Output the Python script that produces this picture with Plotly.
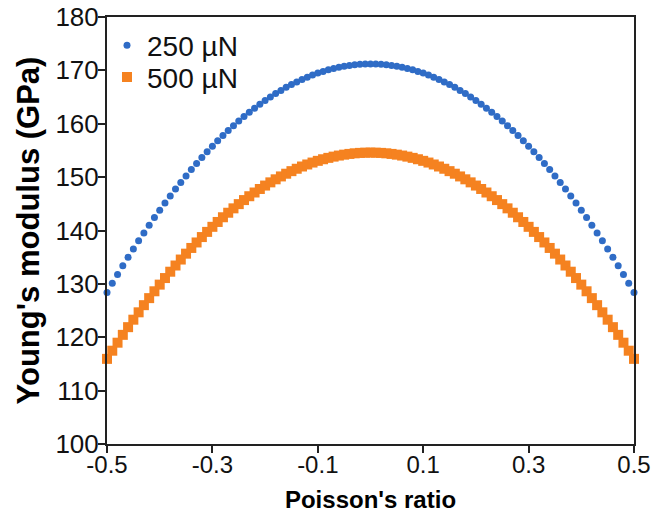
import plotly.graph_objects as go

poisson = [-0.50, -0.49, -0.48, -0.47, -0.46, -0.45, -0.44, -0.43, -0.42, -0.41,
           -0.40, -0.39, -0.38, -0.37, -0.36, -0.35, -0.34, -0.33, -0.32, -0.31,
           -0.30, -0.29, -0.28, -0.27, -0.26, -0.25, -0.24, -0.23, -0.22, -0.21,
           -0.20, -0.19, -0.18, -0.17, -0.16, -0.15, -0.14, -0.13, -0.12, -0.11,
           -0.10, -0.09, -0.08, -0.07, -0.06, -0.05, -0.04, -0.03, -0.02, -0.01,
           0.00, 0.01, 0.02, 0.03, 0.04, 0.05, 0.06, 0.07, 0.08, 0.09,
           0.10, 0.11, 0.12, 0.13, 0.14, 0.15, 0.16, 0.17, 0.18, 0.19,
           0.20, 0.21, 0.22, 0.23, 0.24, 0.25, 0.26, 0.27, 0.28, 0.29,
           0.30, 0.31, 0.32, 0.33, 0.34, 0.35, 0.36, 0.37, 0.38, 0.39,
           0.40, 0.41, 0.42, 0.43, 0.44, 0.45, 0.46, 0.47, 0.48, 0.49, 0.50]

e_250 = [128.40, 130.10, 131.76, 133.38, 134.97, 136.53, 138.06, 139.55, 141.00, 142.42,
         143.81, 145.16, 146.48, 147.76, 149.01, 150.23, 151.41, 152.56, 153.67, 154.75,
         155.79, 156.80, 157.78, 158.72, 159.63, 160.50, 161.34, 162.14, 162.91, 163.65,
         164.35, 165.02, 165.65, 166.25, 166.82, 167.35, 167.84, 168.31, 168.73, 169.13,
         169.49, 169.81, 170.10, 170.36, 170.58, 170.77, 170.93, 171.05, 171.13, 171.18,
         171.20,
         171.18, 171.13, 171.05, 170.93, 170.77, 170.58, 170.36, 170.10, 169.81, 169.49,
         169.13, 168.73, 168.31, 167.84, 167.35, 166.82, 166.25, 165.65, 165.02, 164.35,
         163.65, 162.91, 162.14, 161.34, 160.50, 159.63, 158.72, 157.78, 156.80, 155.79,
         154.75, 153.67, 152.56, 151.41, 150.23, 149.01, 147.76, 146.48, 145.16, 143.81,
         142.42, 141.00, 139.55, 138.06, 136.53, 134.97, 133.38, 131.76, 130.10, 128.40]

e_500 = [115.95, 117.48, 118.98, 120.45, 121.89, 123.29, 124.67, 126.01, 127.33, 128.61,
         129.86, 131.09, 132.28, 133.44, 134.56, 135.66, 136.73, 137.76, 138.77, 139.74,
         140.69, 141.60, 142.48, 143.33, 144.15, 144.94, 145.70, 146.42, 147.12, 147.78,
         148.42, 149.02, 149.59, 150.13, 150.64, 151.12, 151.57, 151.99, 152.37, 152.73,
         153.05, 153.35, 153.61, 153.84, 154.04, 154.21, 154.35, 154.46, 154.54, 154.58,
         154.60,
         154.58, 154.54, 154.46, 154.35, 154.21, 154.04, 153.84, 153.61, 153.35, 153.05,
         152.73, 152.37, 151.99, 151.57, 151.12, 150.64, 150.13, 149.59, 149.02, 148.42,
         147.78, 147.12, 146.42, 145.70, 144.94, 144.15, 143.33, 142.48, 141.60, 140.69,
         139.74, 138.77, 137.76, 136.73, 135.66, 134.56, 133.44, 132.28, 131.09, 129.86,
         128.61, 127.33, 126.01, 124.67, 123.29, 121.89, 120.45, 118.98, 117.48, 115.95]

x_ticks = [-0.5, -0.3, -0.1, 0.1, 0.3, 0.5]
x_tick_labels = ["-0.5", "-0.3", "-0.1", "0.1", "0.3", "0.5"]
y_ticks = [100, 110, 120, 130, 140, 150, 160, 170, 180]

FONT = "Liberation Sans, Arial, sans-serif"

fig = go.Figure()
fig.add_trace(go.Scatter(
    x=poisson, y=e_250, mode="markers", name="250 µN", legend="legend",
    marker=dict(symbol="circle", size=7, color="#2F6CC6", line=dict(width=0)),
    cliponaxis=False,
))
fig.add_trace(go.Scatter(
    x=poisson, y=e_500, mode="markers", name="500 µN", legend="legend2",
    marker=dict(symbol="square", size=10, color="#F58220", line=dict(width=0)),
    cliponaxis=False,
))

leg_common = dict(xanchor="left", yanchor="middle", bgcolor="rgba(0,0,0,0)",
                  font=dict(size=28, family=FONT, color="#111111"),
                  itemwidth=30, tracegroupgap=0)

fig.update_layout(
    width=668, height=522,
    margin=dict(l=107, r=34, t=17, b=78),
    paper_bgcolor="white", plot_bgcolor="white",
    font=dict(family=FONT, color="#000000", size=24),
    showlegend=True,
    legend=dict(x=0.0, y=0.933, **leg_common),
    legend2=dict(x=0.0, y=0.859, **leg_common),
    xaxis=dict(
        range=[-0.5, 0.5], tickvals=x_ticks, ticktext=x_tick_labels,
        showgrid=False, zeroline=False, automargin=False,
        showline=True, linecolor="#222222", linewidth=2, mirror=True,
        ticks="outside", ticklen=7, tickwidth=2, tickcolor="#222222",
        ticklabelstandoff=-9, ticklabeloverflow="allow",
        tickfont=dict(size=24, family=FONT, color="#111111"),
        title=dict(text="<b>Poisson's ratio</b>", font=dict(size=24, family=FONT), standoff=14),
    ),
    yaxis=dict(
        range=[100, 180], tickvals=y_ticks,
        showgrid=False, zeroline=False, automargin=False,
        showline=True, linecolor="#222222", linewidth=2, mirror=True,
        ticks="outside", ticklen=7, tickwidth=2, tickcolor="#222222",
        ticklabelstandoff=-6, ticklabeloverflow="allow",
        tickfont=dict(size=26, family=FONT, color="#111111"),
        title=dict(text="<b>Young's modulus (GPa)</b>", font=dict(size=31, family=FONT), standoff=7),
    ),
)

fig.write_html("out.html",
               config={"displayModeBar": False},
               post_script="document.body.style.margin='0';document.body.style.overflow='hidden';")
